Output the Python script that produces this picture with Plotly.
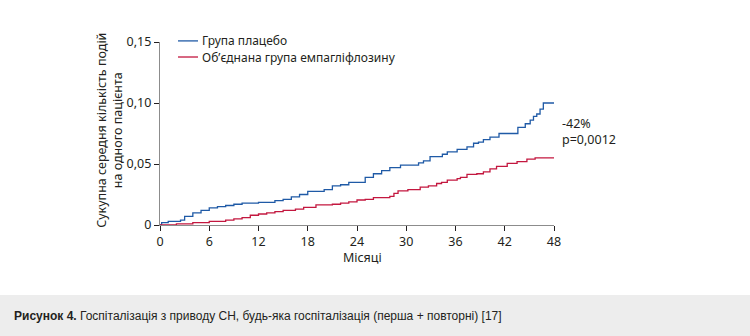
import plotly.graph_objects as go

# Cumulative mean number of events per patient (step curves)
placebo_months = [0, 0.2, 1.0, 2.5, 3.0, 4.0, 5.0, 6.0, 7.0, 8.0, 9.0, 10.0, 12.0, 14.0,
                  15.0, 16.0, 17.0, 18.0, 20.0, 21.0, 22.0, 23.0, 25.0, 26.0, 27.0, 28.0,
                  29.3, 31.5, 32.1, 32.9, 34.4, 35.0, 36.2, 37.4, 38.2, 38.8, 39.4, 40.2,
                  41.3, 43.6, 44.5, 45.1, 45.5, 45.9, 46.3, 46.7, 48.0]
placebo_values = [0, 0.002, 0.003, 0.004, 0.007, 0.010, 0.012, 0.014, 0.015, 0.016, 0.017,
                  0.018, 0.0185, 0.020, 0.021, 0.023, 0.025, 0.0275, 0.029, 0.032, 0.033,
                  0.035, 0.039, 0.042, 0.0445, 0.047, 0.049, 0.051, 0.0525, 0.056, 0.058,
                  0.060, 0.062, 0.064, 0.067, 0.068, 0.070, 0.072, 0.075, 0.080, 0.083,
                  0.086, 0.089, 0.091, 0.095, 0.100, 0.100]

empa_months = [0, 2.0, 4.0, 6.0, 8.0, 9.0, 10.0, 11.0, 12.0, 13.0, 14.0, 15.0, 16.5, 17.5,
               19.0, 21.0, 22.0, 23.0, 24.0, 25.0, 26.0, 28.0, 28.5, 29.0, 30.2, 31.7, 32.7,
               33.7, 34.3, 35.0, 36.2, 36.6, 37.4, 38.6, 39.4, 40.2, 41.0, 42.3, 43.5, 44.7,
               45.7, 48.0]
empa_values = [0, 0.001, 0.002, 0.003, 0.004, 0.005, 0.006, 0.008, 0.009, 0.010, 0.011,
               0.012, 0.013, 0.0145, 0.0165, 0.017, 0.018, 0.019, 0.0205, 0.021, 0.0225,
               0.0235, 0.026, 0.028, 0.029, 0.031, 0.032, 0.034, 0.035, 0.0368, 0.038,
               0.039, 0.0415, 0.042, 0.0436, 0.046, 0.048, 0.0505, 0.052, 0.054, 0.055,
               0.055]

series_names = ["Група плацебо", "Об’єднана група емпагліфлозину"]
series_colors = ["#1f5aa6", "#c3173f"]

x_ticks = [0, 6, 12, 18, 24, 30, 36, 42, 48]
y_ticks = [0, 0.05, 0.10, 0.15]
y_tick_labels = ["0", "0,05", "0,10", "0,15"]

x_title = "Місяці"
y_title = "Сукупна середня кількість подій<br>на одного пацієнта"
effect_text = "-42%<br>p=0,0012"
caption_bold = "Рисунок 4."
caption_text = "Госпіталізація з приводу СН, будь-яка госпіталізація (перша + повторні) [17]"

FONT = "Noto Sans, Open Sans, sans-serif"
TEXT_COLOR = "#231f20"

fig = go.Figure()
for xs, ys, name, color in [(placebo_months, placebo_values, series_names[0], series_colors[0]),
                            (empa_months, empa_values, series_names[1], series_colors[1])]:
    fig.add_trace(go.Scatter(x=xs, y=ys, mode="lines", name=name,
                             line=dict(shape="hv", color=color, width=1.3),
                             showlegend=False, hoverinfo="skip"))

# Legend drawn as short line keys with labels
legend_y = [1.006, 0.918]
for ly, name, color in zip(legend_y, series_names, series_colors):
    fig.add_shape(type="line", xref="paper", yref="paper", x0=0.0457, x1=0.0965,
                  y0=ly, y1=ly, line=dict(color=color, width=1.3))
    fig.add_annotation(xref="paper", yref="paper", x=0.1016, y=ly, text=name,
                       xanchor="left", yanchor="middle", showarrow=False,
                       font=dict(family=FONT, size=12, color=TEXT_COLOR))

# Caption band
fig.add_shape(type="rect", xref="paper", yref="paper", x0=-0.41, x1=1.51,
              y0=-0.382, y1=-0.62, fillcolor="#ededed", line=dict(width=0), layer="below")
fig.add_annotation(xref="paper", yref="paper", x=-0.376, y=-0.496,
                   text=f"<b>{caption_bold}</b> {caption_text}",
                   xanchor="left", yanchor="middle", showarrow=False,
                   font=dict(family="Liberation Sans Narrow, Arial Narrow, sans-serif",
                             size=12, color=TEXT_COLOR))

# Axis titles and effect annotation
fig.add_annotation(xref="paper", yref="paper", x=-0.127, y=0.52, text=y_title,
                   textangle=-90, xanchor="center", yanchor="middle", showarrow=False,
                   font=dict(family=FONT, size=12.5, color=TEXT_COLOR))
fig.add_annotation(xref="paper", yref="paper", x=0.515, y=-0.18, text=x_title,
                   xanchor="center", yanchor="middle", showarrow=False,
                   font=dict(family=FONT, size=12.5, color=TEXT_COLOR))
fig.add_annotation(xref="paper", yref="paper", x=1.014, y=0.51, text=effect_text,
                   xanchor="left", yanchor="middle", align="left", showarrow=False,
                   font=dict(family=FONT, size=12.5, color=TEXT_COLOR))

fig.update_layout(
    width=750, height=336,
    margin=dict(l=160, r=196, t=42, b=111),
    paper_bgcolor="white", plot_bgcolor="white",
    font=dict(family=FONT, size=12.5, color=TEXT_COLOR),
)
fig.update_xaxes(range=[0, 48], tickvals=x_ticks, showgrid=False, zeroline=False,
                 showline=True, linecolor="#8c8c8c", linewidth=1.3,
                 ticks="outside", ticklen=5, tickcolor="#231f20", tickwidth=1,
                 tickfont=dict(family=FONT, size=12.5, color=TEXT_COLOR))
fig.update_yaxes(range=[0, 0.15], tickvals=y_ticks, ticktext=y_tick_labels, showgrid=False,
                 zeroline=False, showline=True, linecolor="#8c8c8c", linewidth=1.3,
                 ticks="outside", ticklen=5, tickcolor="#231f20", tickwidth=1,
                 tickfont=dict(family=FONT, size=12.5, color=TEXT_COLOR))

fig.write_html("out.html")
